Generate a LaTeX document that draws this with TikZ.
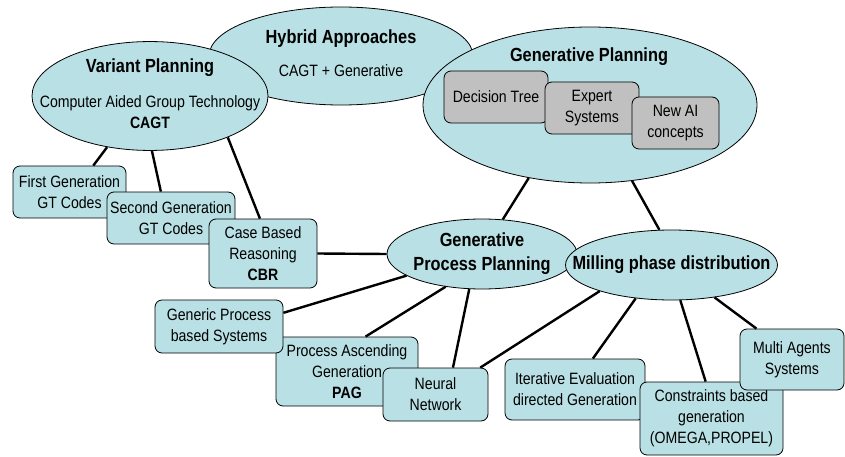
\documentclass[tikz,border=0pt]{standalone}
\usepackage{fontspec}
\setmainfont{Liberation Sans}[FakeStretch=0.86]
\usetikzlibrary{shapes.geometric}

\definecolor{tealfill}{RGB}{185,224,228}
\definecolor{boxgray}{RGB}{192,192,192}
\newcommand{\headfont}{\fontsize{19}{21}\selectfont\bfseries}
\newcommand{\bodyfont}{\fontsize{16.4}{21}\selectfont}
\newcommand{\ovaltext}[1]{\makebox[0pt]{\begin{tabular}{@{}c@{}}#1\end{tabular}}}

\begin{document}
\begin{tikzpicture}[x=1pt,y=-1pt,
    oval/.style={ellipse, draw, line width=0.8pt, fill=tealfill, inner sep=0pt, font=\bodyfont},
    topic/.style={draw, line width=0.8pt, fill=tealfill, rounded corners=7pt, align=center, inner sep=2pt, font=\bodyfont},
    idea/.style={topic, fill=boxgray},
    link/.style={line width=2.4pt}]
        \useasboundingbox (0,0) rectangle (845,457);

        % --- Big ovals ---
        \node[oval, minimum width=264pt, minimum height=98pt] (ha) at (341,56) {\ovaltext{\headfont Hybrid Approaches\\[12pt] CAGT + Generative}};
        \node[oval, minimum width=236pt, minimum height=106pt] (vp) at (150,96) {\ovaltext{\headfont Variant Planning\\[14pt] Computer Aided Group Technology\\ \textbf{CAGT}}};
        \node[oval, minimum width=334pt, minimum height=156pt] (gp) at (590,105) {};
        \node[font=\headfont] (gptitle) at (589,57) {Generative Planning};
        \node[idea, minimum width=104pt, minimum height=52pt] (dt) at (496,97) {Decision Tree};
        \node[idea, minimum width=94pt, minimum height=52pt] (es) at (592,108) {Expert\\Systems};
        \node[idea, minimum width=87pt, minimum height=52pt] (ai) at (675.5,123) {New AI\\concepts};
        \node[oval, minimum width=190pt, minimum height=70pt] (gpp) at (482,254) {\ovaltext{\headfont Generative\\[3pt] \headfont Process Planning}};
        \node[oval, minimum width=212pt, minimum height=70pt] (mp) at (671.5,265) {\ovaltext{\headfont Milling phase distribution}};
        % ---

        % --- Boxes ---
        \node[topic, minimum width=113pt, minimum height=52pt] (fg) at (69.5,192) {First Generation\\GT Codes};
        \node[topic, minimum width=128pt, minimum height=52pt] (sg) at (171,218) {Second Generation\\GT Codes};
        \node[topic, minimum width=108pt, minimum height=69pt] (cbr) at (263,253.5) {Case Based\\Reasoning\\\textbf{CBR}};
        \node[topic, minimum width=142pt, minimum height=69pt] (pag) at (347,371.5) {Process Ascending\\Generation\\\textbf{PAG}};
        \node[topic, minimum width=128pt, minimum height=53pt] (gps) at (219,326.5) {Generic Process\\based Systems};
        \node[topic, minimum width=105pt, minimum height=53pt] (nn) at (435.5,394.5) {Neural\\Network};
        \node[topic, minimum width=140pt, minimum height=61pt] (ied) at (575,389.5) {Iterative Evaluation\\directed Generation};
        \node[topic, minimum width=143pt, minimum height=73pt] (cbg) at (711.5,418.5) {Constraints based\\generation\\(OMEGA,PROPEL)};
        \node[topic, minimum width=104pt, minimum height=61pt] (mas) at (792,359.5) {Multi Agents\\Systems};
        % ---

        % --- Links ---
        \draw[link] (vp.-130) -- (fg.48);
        \draw[link] (vp.-88) -- (sg.111);
        \draw[link] (vp.-28) -- (cbr.95);
        \draw[link] (cbr.east) -- (gpp.west);
        \draw[link] (gpp.196) -- (gps.12);
        \draw[link] (gpp.222) -- (pag.62);
        \draw[link] (gpp.250) -- (nn.57);
        \draw[link] (gp.230) -- (gpp.59);
        \draw[link] (gp.-61) -- (mp.109);
        \draw[link] (mp.200) -- (nn.31);
        \draw[link] (mp.223) -- (ied.60);
        \draw[link] (mp.-76) -- (cbg.99);
        \draw[link] (mp.-37) -- (mas.139);
        % ---
\end{tikzpicture}
\end{document}
